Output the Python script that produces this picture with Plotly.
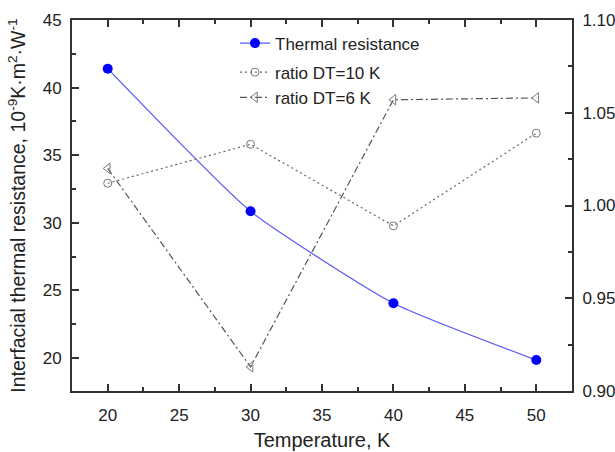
import plotly.graph_objects as go

temperature = [20, 30, 40, 50]
thermal_resistance = [41.4, 30.85, 24.05, 19.85]
ratio_dt10 = [1.012, 1.033, 0.989, 1.039]
ratio_dt6 = [1.020, 0.913, 1.057, 1.058]

FONT = "Liberation Sans, Arial, sans-serif"
AX = "#333333"

fig = go.Figure()
fig.add_trace(go.Scatter(
    x=temperature, y=thermal_resistance, name="Thermal resistance",
    mode="lines+markers", line=dict(color="#5a5af5", width=1.3, shape="spline", smoothing=0.5),
    marker=dict(color="#0000ff", size=10, symbol="circle"),
    legendgroup="a", legendrank=1,
))
fig.add_trace(go.Scatter(
    x=temperature, y=ratio_dt10, name="ratio DT=10 K", yaxis="y2",
    mode="lines+markers", line=dict(color="#666666", width=1.2, dash="2px,3px"),
    marker=dict(color="#777777", size=8, symbol="circle-open", line=dict(width=1)),
    legendgroup="b", legendrank=2,
))
fig.add_trace(go.Scatter(
    x=temperature, y=ratio_dt6, name="ratio DT=6 K", yaxis="y2",
    mode="lines+markers", line=dict(color="#555555", width=1.2, dash="7px,3px,2px,3px"),
    marker=dict(color="#777777", size=9, symbol="triangle-left-open", line=dict(width=1)),
    legendgroup="b", legendrank=3,
))

common = dict(showgrid=False, zeroline=False, showline=True, linecolor=AX, linewidth=2,
              ticks="inside", tickcolor=AX, tickwidth=1.5, ticklen=7, automargin=False,
              tickfont=dict(family=FONT, size=17, color="#222222"))

fig.update_layout(
    width=615, height=452,
    margin=dict(l=72, r=43, t=20, b=61),
    paper_bgcolor="white", plot_bgcolor="white",
    font=dict(family=FONT, color="#222222"),
    showlegend=True,
    legend=dict(x=0.326, y=0.985, xanchor="left", yanchor="top",
                bgcolor="rgba(0,0,0,0)", borderwidth=0,
                font=dict(family=FONT, size=17, color="#222222"),
                tracegroupgap=4, itemwidth=30),
    xaxis=dict(range=[17.5, 52.5], dtick=5, tick0=20, mirror="ticks", ticklabelstandoff=8,
               minor=dict(dtick=2.5, ticks="inside", ticklen=4, tickcolor=AX, tickwidth=1.5),
               title=dict(text="Temperature, K", font=dict(family=FONT, size=20), standoff=9),
               **common),
    yaxis=dict(range=[17.56, 45], dtick=5, tick0=20, ticklabelstandoff=5,
               minor=dict(dtick=2.5, ticks="inside", ticklen=4, tickcolor=AX, tickwidth=1.5),
               title=dict(text="Interfacial thermal resistance, 10<sup>-9</sup>K·m<sup>2</sup>·W<sup>-1</sup>",
                          font=dict(family=FONT, size=19.5), standoff=12),
               **common),
    yaxis2=dict(range=[0.9, 1.1], dtick=0.05, tick0=0.9, overlaying="y", side="right",
                tickformat=".2f", ticklabelstandoff=5,
                minor=dict(dtick=0.025, ticks="inside", ticklen=4, tickcolor=AX, tickwidth=1.5),
                **common),
)

fig.write_html("out.html", config={"displayModeBar": False},
               post_script="document.body.style.margin='0';")
